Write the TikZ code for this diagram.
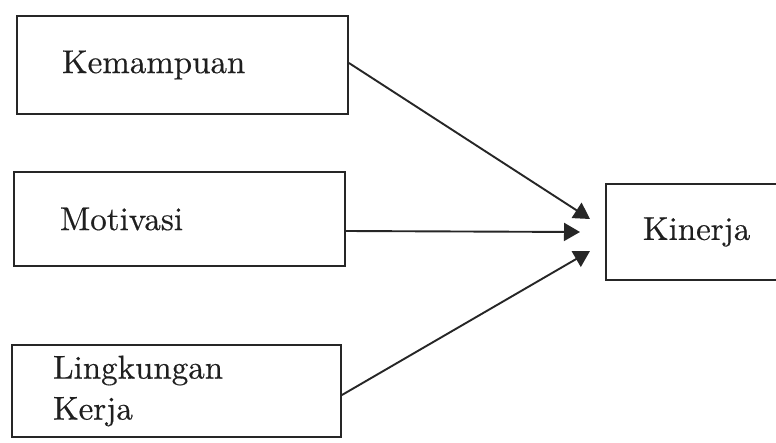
\documentclass[tikz,border=0pt]{standalone}
\usepackage{fontspec}
\newfontfamily\lmten[FakeBold=0.4]{lmroman10-regular.otf}
\usetikzlibrary{arrows.meta}
\begin{document}
\begin{tikzpicture}[x=1pt,y=-1pt,
  boxline/.style={draw=black!85, line width=1.9pt},
  box/.style={boxline, align=left, inner ysep=0pt,
    font=\lmten\fontsize{33}{41}\selectfont, text=black!88},
  conn/.style={draw=black!85, line width=1.9pt,
    -{Triangle[length=16pt,width=18pt]}}]
\path[use as bounding box, fill=white] (0,0) rectangle (776,442);
\node[box, minimum width=331pt, minimum height=98pt, inner xsep=45pt, text width=241pt]
  (kem) at (182.5,65) {Kemampuan};
\node[box, minimum width=331pt, minimum height=94pt, inner xsep=46pt, text width=239pt]
  (mot) at (179.5,219) {Motivasi};
\node[box, minimum width=329pt, minimum height=92pt, inner xsep=41pt, text width=247pt]
  (lin) at (176.5,391) {Lingkungan\\Kerja};
\node[box, draw=none, anchor=west, minimum width=170pt, minimum height=94pt, inner xsep=36pt, text width=98pt]
  (kin) at (606,232) {Kinerja};
\draw[boxline] (kin.north east) -- (kin.north west) -- (kin.south west) -- (kin.south east);
\coordinate (t1) at (590,219);
\coordinate (t2) at (580,232);
\coordinate (t3) at (590,251);
\draw[conn] (kem.east) ++(0,-2) coordinate (s1) (s1) -- (t1);
\draw[conn] (mot.east) ++(0,12) coordinate (s2) (s2) -- (t2);
\draw[conn] (lin.east) ++(0,4) coordinate (s3) (s3) -- (t3);
\end{tikzpicture}
\end{document}
